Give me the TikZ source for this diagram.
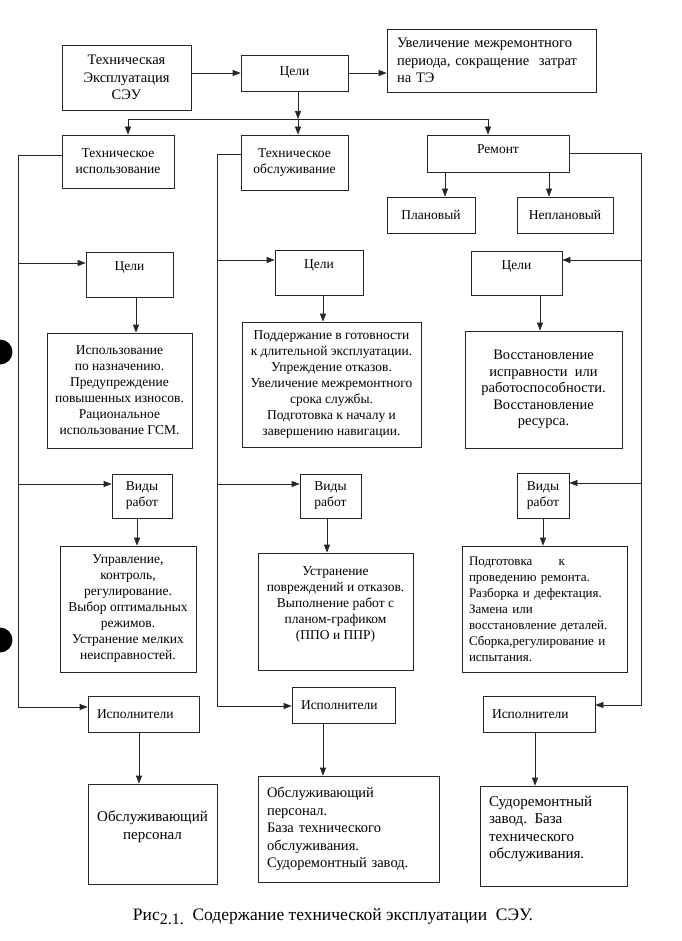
\documentclass[tikz,border=0pt]{standalone}
\usepackage{fontspec}
\setmainfont{Liberation Serif}
\usetikzlibrary{arrows.meta}

\tikzstyle{box}=[draw=black!85,line width=0.7pt,inner sep=0pt,align=center]
\tikzstyle{lbox}=[box,align=left,inner xsep=9pt]
\tikzstyle{wire}=[draw=black!85,line width=0.7pt]
\tikzstyle{bigtext}=[font=\fontsize{15}{17.5}\selectfont]

\begin{document}
\begin{tikzpicture}[x=1pt,y=-1pt,font=\fontsize{13.5}{16}\selectfont,
    >={Triangle[length=8pt,width=6pt]}]
    \useasboundingbox (0,0) rectangle (681,941);

    % top row
    \node[box,minimum width=129pt,minimum height=65pt,font=\fontsize{14.5}{17.5}\selectfont] (tes) at (126.5,77.5) {Техническая\\Эксплуатация\\СЭУ};
    \node[box,minimum width=107pt,minimum height=36pt] (goal) at (294.5,73) {Цели};
    \node[lbox,text width=189pt,inner xsep=10pt,minimum height=63pt,font=\fontsize{14.5}{17.5}\selectfont] (aim) at (491.5,60.5) {Увеличение межремонтного\\периода, сокращение\ \ затрат\\на ТЭ};
    \draw[wire,->] (tes.east |- goal) -- (goal.west);
    \draw[wire,->] (goal.east) -- (goal.east -| aim.west);

    % kinds of operation
    \node[box,minimum width=112pt,minimum height=53pt] (use) at (118,161.5) {Техническое\\использование};
    \node[box,minimum width=107pt,minimum height=55pt] (maint) at (294.5,162.5) {Техническое\\обслуживание};
    \node[box,minimum width=142pt,minimum height=37pt,text depth=9pt] (rep) at (498,153.5) {Ремонт};
    \node[box,minimum width=88pt,minimum height=36pt] (plan) at (431,215) {Плановый};
    \node[box,minimum width=96pt,minimum height=36pt] (unplan) at (565,215) {Неплановый};

    \coordinate (bus) at (298,119);
    \coordinate (busL) at (128,119);
    \coordinate (busR) at (488,119);
    \draw[wire,->] (bus |- goal.south) -- (bus);
    \draw[wire] (busL) -- (busR);
    \draw[wire,->] (busL) -- (busL |- use.north);
    \draw[wire,->] (bus) -- (bus |- maint.north);
    \draw[wire,->] (busR) -- (busR |- rep.north);
    \draw[wire,->] ([xshift=-53pt]rep.south) -- ([xshift=-53pt]rep.south |- plan.north);
    \draw[wire,->] ([xshift=51pt]rep.south) -- ([xshift=51pt]rep.south |- unplan.north);

    % column 1
    \node[box,minimum width=87pt,minimum height=45pt,text depth=16pt] (c1goal) at (129.5,274.5) {Цели};
    \node[box,minimum width=145pt,minimum height=115pt] (c1aim) at (119.5,390.5) {Использование\\по назначению.\\Предупреждение\\повышенных износов.\\Рациональное\\использование ГСМ.};
    \node[box,minimum width=60pt,minimum height=44pt] (c1kind) at (142,496) {Виды\\работ};
    \node[box,minimum width=136pt,minimum height=126pt] (c1job) at (128,609) {Управление,\\контроль,\\регулирование.\\Выбор оптимальных\\режимов.\\Устранение мелких\\неисправностей.};
    \node[lbox,text width=93pt,minimum height=36pt] (c1who) at (143.5,714) {Исполнители};
    \node[box,bigtext,minimum width=129pt,minimum height=100pt] (c1staff) at (152.5,834) {Обслуживающий\\персонал\\\mbox{}};

    \coordinate (c1top) at (18,155);
    \coordinate (c1a) at (18,263);
    \coordinate (c1b) at (18,484);
    \coordinate (c1bot) at (18,707);
    \draw[wire,->] (c1top -| use.west) -- (c1top) -- (c1bot) -- (c1bot -| c1who.west);
    \draw[wire,->] (c1a) -- (c1a -| c1goal.west);
    \draw[wire,->] (c1b) -- (c1b -| c1kind.west);
    \draw[wire,->] ([xshift=6.5pt]c1goal.south) -- ([xshift=6.5pt]c1goal.south |- c1aim.north);
    \draw[wire,->] ([xshift=-5pt]c1kind.south) -- ([xshift=-5pt]c1kind.south |- c1job.north);
    \draw[wire,->] ([xshift=-4.5pt]c1who.south) -- ([xshift=-4.5pt]c1who.south |- c1staff.north);

    % column 2
    \node[box,minimum width=88pt,minimum height=45pt,text depth=16pt] (c2goal) at (319,272.5) {Цели};
    \node[box,minimum width=179pt,minimum height=125pt] (c2aim) at (331.5,384.5) {Поддержание в готовности\\к длительной эксплуатации.\\Упреждение отказов.\\Увеличение межремонтного\\срока службы.\\Подготовка к началу и\\завершению навигации.};
    \node[box,minimum width=61pt,minimum height=44pt] (c2kind) at (330.5,496) {Виды\\работ};
    \node[box,minimum width=155pt,minimum height=117pt] (c2job) at (335.5,611.5) {Устранение\\повреждений и отказов.\\Выполнение работ с\\планом-графиком\\(ППО и ППР)\\\mbox{}};
    \node[lbox,text width=85pt,minimum height=36pt] (c2who) at (343.5,705) {Исполнители};
    \node[lbox,text width=163pt,minimum height=106pt,font=\fontsize{14.5}{17.5}\selectfont] (c2staff) at (348.5,829) {Обслуживающий\\персонал.\\База технического\\обслуживания.\\Судоремонтный завод.};

    \coordinate (c2top) at (217,154);
    \coordinate (c2a) at (217,260);
    \coordinate (c2b) at (217,484);
    \coordinate (c2bot) at (217,706);
    \draw[wire,->] (c2top -| maint.west) -- (c2top) -- (c2bot) -- (c2bot -| c2who.west);
    \draw[wire,->] (c2a) -- (c2a -| c2goal.west);
    \draw[wire,->] (c2b) -- (c2b -| c2kind.west);
    \draw[wire,->] ([xshift=4pt]c2goal.south) -- ([xshift=4pt]c2goal.south |- c2aim.north);
    \draw[wire,->] ([xshift=-3.5pt]c2kind.south) -- ([xshift=-3.5pt]c2kind.south |- c2job.north);
    \draw[wire,->] ([xshift=-20.5pt]c2who.south) -- ([xshift=-20.5pt]c2who.south |- c2staff.north);

    % column 3
    \node[box,minimum width=91pt,minimum height=44pt,text depth=16pt] (c3goal) at (516.5,273) {Цели};
    \node[box,minimum width=157pt,minimum height=117pt,font=\fontsize{14.5}{16.5}\selectfont] (c3aim) at (543.5,389.5) {Восстановление\\исправности\ \ или\\работоспособности.\\Восстановление\\ресурса.};
    \node[box,minimum width=52pt,minimum height=45pt] (c3kind) at (543,495.5) {Виды\\работ};
    \node[lbox,text width=151pt,inner xsep=7pt,minimum height=126pt,font=\fontsize{13}{16}\selectfont] (c3job) at (544.5,609) {Подготовка\hspace{26pt}к\\проведению ремонта.\\Разборка и дефектация.\\Замена или\\восстановление деталей.\\Сборка,регулирование и\\испытания.};
    \node[lbox,text width=94pt,minimum height=36pt] (c3who) at (539,714) {Исполнители};
    \node[lbox,bigtext,text width=129pt,minimum height=100pt] (c3staff) at (553.5,836) {Судоремонтный\\завод. База\\технического\\обслуживания.\\\mbox{}};

    \coordinate (c3top) at (641,153);
    \coordinate (c3a) at (641,260);
    \coordinate (c3b) at (641,483);
    \coordinate (c3bot) at (641,705);
    \draw[wire,->] (c3top -| rep.east) -- (c3top) -- (c3bot) -- (c3bot -| c3who.east);
    \draw[wire,->] (c3a) -- (c3a -| c3goal.east);
    \draw[wire,->] (c3b) -- (c3b -| c3kind.east);
    \draw[wire,->] ([xshift=23.5pt]c3goal.south) -- ([xshift=23.5pt]c3goal.south |- c3aim.north);
    \draw[wire,->] (c3kind.south) -- (c3kind.south |- c3job.north);
    \draw[wire,->] ([xshift=-4pt]c3who.south) -- ([xshift=-4pt]c3who.south |- c3staff.north);

    % caption
    \node[font=\fontsize{17.5}{21}\selectfont] (caption) at (333,917) {Рис\raisebox{-4pt}{\fontsize{16}{19}\selectfont 2.1.}\ \ Содержание технической эксплуатации\ \ СЭУ.};

    % punch holes
    \fill (0,352) circle (12.5pt);
    \fill (0,640) circle (12.5pt);
\end{tikzpicture}
\end{document}
